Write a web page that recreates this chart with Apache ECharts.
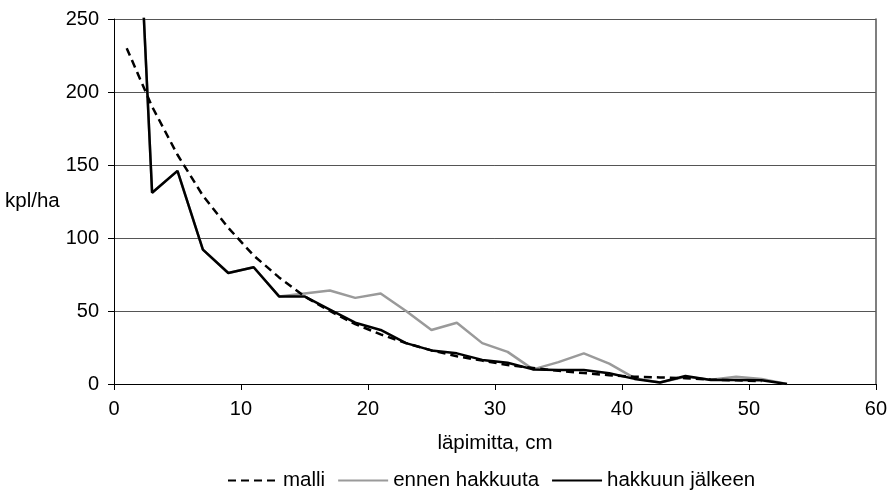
<!DOCTYPE html>
<html>
<head>
<meta charset="utf-8">
<script src="https://cdn.jsdelivr.net/npm/echarts@6/dist/echarts.min.js"></script>
<style>html,body{margin:0;padding:0;background:#fff}#c{width:890px;height:493px}</style>
</head>
<body>
<div id="c"></div>
<script>
// Diameter classes (cm)
const diameters = [1,3,5,7,9,11,13,15,17,19,21,23,25,27,29,31,33,35,37,39,41,43,45,47,49,51,53];
// Series values (kpl/ha)
const malli = [230,190,157,129,107,88,73,60,50,41,34,28,23,19,16,13,11,9,7.5,6,5,4.5,4,3,2.5,2];
const ennenHakkuuta = [500,131,146,92,76,80,60,62,64,59,62,50,37,42,28,22,10,15,21,14,4,1,5,3,5,3.5,0];
const hakkuunJalkeen = [500,131,146,92,76,80,60,60,51,42,37,28,23,21,16.5,14.5,10,9.6,9.6,7.3,3.5,1,5.5,2.8,2.8,2.5,0];
// Axis ticks
const xTicks = {min: 0, max: 60, interval: 10};
const yTicks = {min: 0, max: 250, interval: 50};
const seriesNames = ['malli', 'ennen hakkuuta', 'hakkuun jälkeen'];

function pairs(vals) { return vals.map((v, i) => [diameters[i], v]); }

const font = 'Liberation Sans, Arial, sans-serif';
const chart = echarts.init(document.getElementById('c'), null, {renderer: 'canvas'});
chart.setOption({
  animation: false,
  backgroundColor: '#fff',
  textStyle: {fontFamily: font},
  grid: {left: 114, right: 14, top: 19, bottom: 109, containLabel: false},
  legend: {
    data: seriesNames,
    left: 222,
    top: 465,
    itemWidth: 50,
    itemHeight: 14,
    itemGap: 12,
    itemStyle: {color: 'transparent', borderColor: 'transparent', borderWidth: 0, opacity: 0},
    textStyle: {fontFamily: font, fontSize: 20.5, color: '#000'}
  },
  xAxis: {
    type: 'value',
    min: xTicks.min, max: xTicks.max, interval: xTicks.interval,
    name: 'läpimitta, cm',
    nameLocation: 'middle',
    nameGap: 49,
    nameTextStyle: {fontFamily: font, fontSize: 20.5, color: '#000'},
    axisLine: {show: true, onZero: false, lineStyle: {color: '#000', width: 1}},
    axisTick: {show: true, length: 6, lineStyle: {color: '#000'}},
    axisLabel: {fontFamily: font, fontSize: 20, color: '#000', margin: 15},
    splitLine: {show: false}
  },
  yAxis: [{
    type: 'value',
    min: yTicks.min, max: yTicks.max, interval: yTicks.interval,
    name: 'kpl/ha',
    nameLocation: 'middle',
    nameRotate: 0,
    nameGap: 51,
    nameTextStyle: {fontFamily: font, fontSize: 20.5, color: '#000', align: 'right', verticalAlign: 'middle'},
    axisLine: {show: true, lineStyle: {color: '#000', width: 1}},
    axisTick: {show: true, length: 6, lineStyle: {color: '#000'}},
    axisLabel: {fontFamily: font, fontSize: 20, color: '#000', margin: 15},
    splitLine: {show: true, lineStyle: {color: '#555', width: 1}}
  }, {
    type: 'value',
    position: 'right',
    min: yTicks.min, max: yTicks.max, interval: yTicks.interval,
    axisLine: {show: true, lineStyle: {color: '#555', width: 1.5}},
    axisTick: {show: false},
    axisLabel: {show: false},
    splitLine: {show: false}
  }],
  series: [{
    name: seriesNames[0],
    type: 'line',
    data: pairs(malli),
    showSymbol: false, symbol: 'none',
    lineStyle: {color: '#000', width: 2.5, type: [8, 5]},
    itemStyle: {color: '#000'},
    z: 3
  }, {
    name: seriesNames[1],
    type: 'line',
    data: pairs(ennenHakkuuta),
    showSymbol: false, symbol: 'none',
    lineStyle: {color: '#9a9a9a', width: 2.5},
    itemStyle: {color: '#9a9a9a'},
    z: 2
  }, {
    name: seriesNames[2],
    type: 'line',
    data: pairs(hakkuunJalkeen),
    showSymbol: false, symbol: 'none',
    lineStyle: {color: '#000', width: 2.5},
    itemStyle: {color: '#000'},
    z: 4
  }]
});
</script>
</body>
</html>
